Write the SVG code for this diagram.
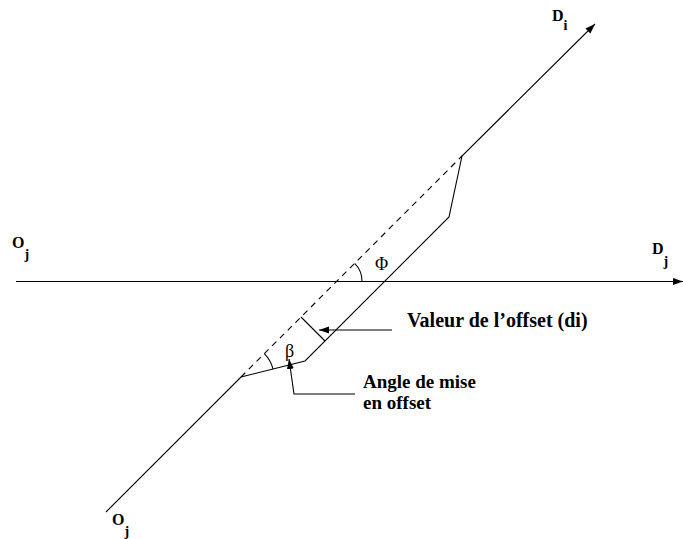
<svg xmlns="http://www.w3.org/2000/svg" width="683" height="539" viewBox="0 0 683 539">
<style>
.ln{fill:none;stroke:#000;stroke-width:1.1}
.dash{fill:none;stroke:#000;stroke-width:1.1;stroke-dasharray:6,5}
.lbl{font-family:"Liberation Serif","Times New Roman",serif;font-weight:bold;fill:#000}
.sym{font-family:"Liberation Serif","Times New Roman",serif;fill:#000;font-size:18px}
</style>
<defs>
<marker id="ah" markerUnits="userSpaceOnUse" markerWidth="11" markerHeight="8" refX="10" refY="3.5" orient="auto">
<path d="M0,0 L10,3.5 L0,7 z" fill="#000"/>
</marker>
</defs>
<rect width="683" height="539" fill="#fff"/>
<g id="connectors">
<path id="axis-oj-dj" class="ln" d="M16,281.5 L683,281.5" marker-end="url(#ah)"/>
<path id="offset-route" class="ln" d="M106,512 L241,377 L305,361 L449,217 L462,156 L595,24" marker-end="url(#ah)"/>
<path id="direct-route" class="dash" d="M241,377 L462,156"/>
<path id="offset-width" class="ln" d="M301,317 L325,341"/>
<path id="arc-phi" class="ln" d="M354.7,263.3 A25,25 0 0,1 362,281"/>
<path id="arc-beta" class="ln" d="M264.3,353.7 A33,33 0 0,1 273,369"/>
<path id="leader-offset" class="ln" d="M392,330 L319,330" marker-end="url(#ah)"/>
<path id="leader-angle" class="ln" d="M355,394 L294,394 L289,359" marker-end="url(#ah)"/>
</g>
<g id="node-oj-left">
<text class="lbl" x="12" y="248" font-size="16">O<tspan font-size="14" dy="11">j</tspan></text>
</g>
<g id="node-dj">
<text class="lbl" x="652" y="254" font-size="16">D<tspan font-size="14" dy="12">j</tspan></text>
</g>
<g id="node-di">
<text class="lbl" x="552" y="21" font-size="16">D<tspan font-size="14" dy="9">i</tspan></text>
</g>
<g id="node-oj-bottom">
<text class="lbl" x="112" y="525" font-size="16">O<tspan font-size="14" dy="11">j</tspan></text>
</g>
<g id="label-phi">
<text class="sym" x="375" y="270">Φ</text>
</g>
<g id="label-beta">
<text class="sym" x="285" y="357">β</text>
</g>
<g id="label-offset">
<text class="lbl" x="407" y="327" font-size="20">Valeur de l’offset (di)</text>
</g>
<g id="label-angle">
<text class="lbl" x="363" y="388" font-size="19">Angle de mise</text>
<text class="lbl" x="363" y="409" font-size="19">en offset</text>
</g>
</svg>
